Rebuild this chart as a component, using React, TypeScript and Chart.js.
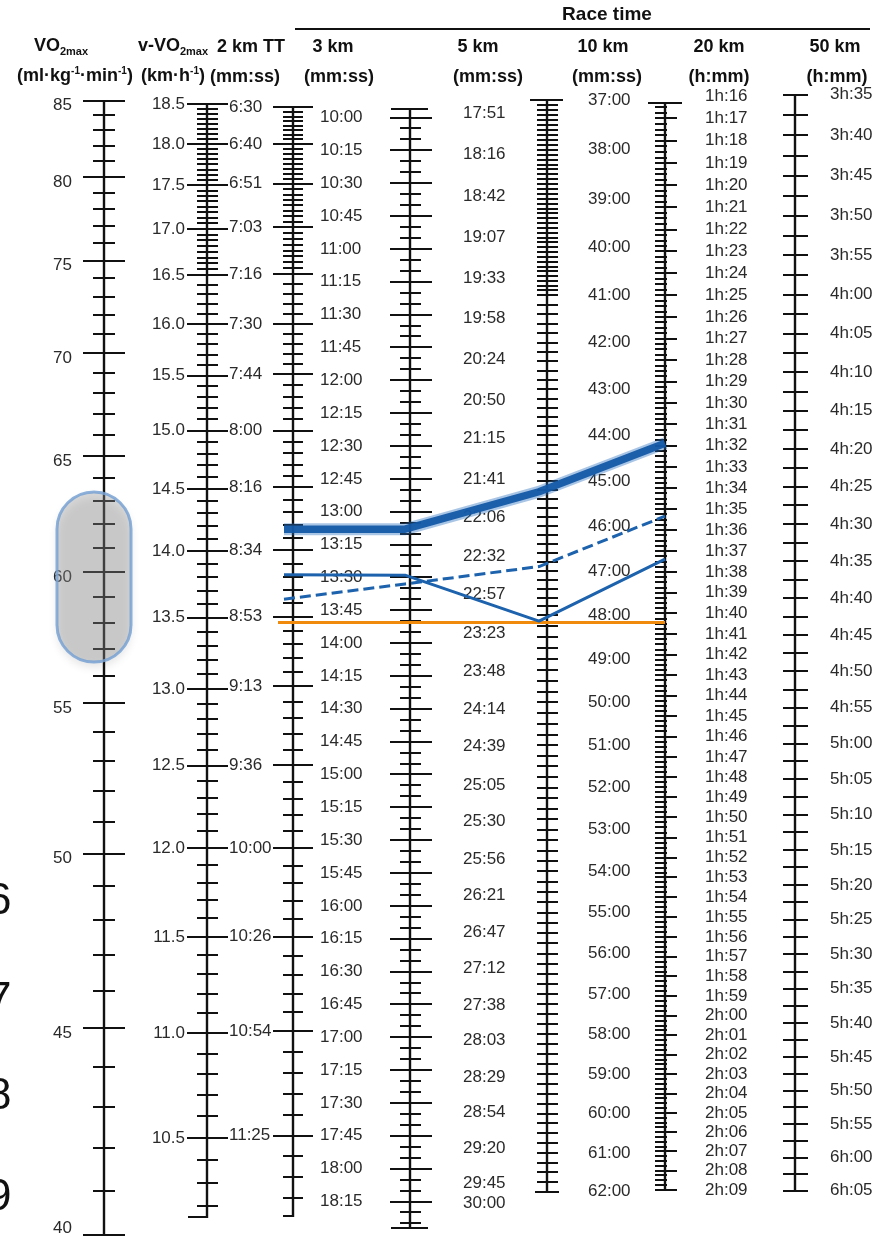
import React, { useEffect, useRef } from 'react';
import { Chart, Scale, LinearScale, LineController, LineElement, PointElement } from 'chart.js';

// ------------------------------------------------------------------ data
const VO2MAX_TICKS = [85, 80, 75, 70, 65, 60, 55, 50, 45, 40];
const V_VO2MAX_TICKS = [18.5, 18.0, 17.5, 17.0, 16.5, 16.0, 15.5, 15.0, 14.5, 14.0, 13.5, 13.0, 12.5, 12.0, 11.5, 11.0, 10.5];
const TT2KM_LABELS = ['6:30', '6:40', '6:51', '7:03', '7:16', '7:30', '7:44', '8:00', '8:16', '8:34', '8:53', '9:13', '9:36', '10:00', '10:26', '10:54', '11:25'];
const KM3_LABELS = ['10:00', '10:15', '10:30', '10:45', '11:00', '11:15', '11:30', '11:45', '12:00', '12:15', '12:30', '12:45', '13:00', '13:15', '13:30', '13:45', '14:00', '14:15', '14:30', '14:45', '15:00', '15:15', '15:30', '15:45', '16:00', '16:15', '16:30', '16:45', '17:00', '17:15', '17:30', '17:45', '18:00', '18:15'];
const KM5_LABELS = ['17:51', '18:16', '18:42', '19:07', '19:33', '19:58', '20:24', '20:50', '21:15', '21:41', '22:06', '22:32', '22:57', '23:23', '23:48', '24:14', '24:39', '25:05', '25:30', '25:56', '26:21', '26:47', '27:12', '27:38', '28:03', '28:29', '28:54', '29:20', '29:45', '30:00'];
const KM10_LABELS = ['37:00', '38:00', '39:00', '40:00', '41:00', '42:00', '43:00', '44:00', '45:00', '46:00', '47:00', '48:00', '49:00', '50:00', '51:00', '52:00', '53:00', '54:00', '55:00', '56:00', '57:00', '58:00', '59:00', '60:00', '61:00', '62:00'];
const KM20_LABELS = ['1h:16', '1h:17', '1h:18', '1h:19', '1h:20', '1h:21', '1h:22', '1h:23', '1h:24', '1h:25', '1h:26', '1h:27', '1h:28', '1h:29', '1h:30', '1h:31', '1h:32', '1h:33', '1h:34', '1h:35', '1h:36', '1h:37', '1h:38', '1h:39', '1h:40', '1h:41', '1h:42', '1h:43', '1h:44', '1h:45', '1h:46', '1h:47', '1h:48', '1h:49', '1h:50', '1h:51', '1h:52', '1h:53', '1h:54', '1h:55', '1h:56', '1h:57', '1h:58', '1h:59', '2h:00', '2h:01', '2h:02', '2h:03', '2h:04', '2h:05', '2h:06', '2h:07', '2h:08', '2h:09'];
const KM50_LABELS = ['3h:35', '3h:40', '3h:45', '3h:50', '3h:55', '4h:00', '4h:05', '4h:10', '4h:15', '4h:20', '4h:25', '4h:30', '4h:35', '4h:40', '4h:45', '4h:50', '4h:55', '5h:00', '5h:05', '5h:10', '5h:15', '5h:20', '5h:25', '5h:30', '5h:35', '5h:40', '5h:45', '5h:50', '5h:55', '6h:00', '6h:05'];

// performances (2 km TT, 3 km, 10 km, 20 km)
const LINE_COLUMNS = ['yTt2', 'yKm3', 'yKm10', 'yKm20'];
const BOLD_LINE = ['8:28', '13:08', '45:14', '1h:31:53'];
const THIN_LINE = ['8:41', '13:29', '48:08', '1h:37:23'];
const DASHED_LINE = ['8:48', '13:33', '46:54', '1h:35:20'];
const ORANGE_LINE_VO2 = [58, 58];
const HIGHLIGHT_VO2 = [63.4, 56.5];

// ------------------------------------------------------------------ scale models (value at chart-area top / bottom)
const SCALE_MODELS: Record<string, { exp: number; top: number; bottom: number }> = {
  yVo2: { exp: -0.5, top: 85.73, bottom: 39.98 },
  yV: { exp: -0.85, top: 18.69, bottom: 10.07 },
  yTt2: { exp: 0.85, top: 385.23, bottom: 715.0 },
  yKm3: { exp: 1, top: 587.44, bottom: 1110.75 },
  yKm5: { exp: 0.66, top: 1056.8, bottom: 1823.6 },
  yKm10: { exp: 0.5, top: 2208.1, bottom: 3789.0 },
  yKm20: { exp: 0.69, top: 4544.4, bottom: 7885.2 },
  yKm50: { exp: 0.6, top: 12865.8, bottom: 22311 },
};

// ------------------------------------------------------------------ layout
const FONT = '"Liberation Sans", Arial, Helvetica, sans-serif';
const LABEL_FONT = '17px ' + FONT;
const W = 887;
const H = 1236;
const AXIS_LAYOUT: Record<string, any> = {
  yVo2: { x: 104, extent: [85, 40], labelX: 72, align: 'right', dy: 5 },
  yV: { x: 207, extent: [18.5, 10.15], labelX: 185, align: 'right', dy: 0 },
  yTt2: { x: 293, extent: [390, 709], labelX: 229, align: 'left', dy: 0 },
  yKm3: { x: 410, extent: [596, 1107], labelX: 320, align: 'left', dy: 0 },
  yKm5: { x: null, extent: null, labelX: 463, align: 'left', dy: 0 },
  yKm10: { x: 547, extent: [2220, 3720], labelX: 588, align: 'left', dy: 0 },
  yKm20: { x: 665, extent: [4578, 7740], labelX: 705, align: 'left', dy: 0 },
  yKm50: { x: 795, extent: [12900, 21900], labelX: 830, align: 'left', dy: 0 },
};
const LINE_X: Record<string, number> = { yTt2: 284, yKm3: 405, yKm10: 539, yKm20: 665 };
const PILL = { left: 57, right: 131 };

// ------------------------------------------------------------------ helpers
function parseTime(s: string): number {
  if (s.includes('h')) {
    const [h, m, sec] = s.replace('h', '').split(':').map(Number);
    return h * 3600 + m * 60 + (sec || 0);
  }
  const [m, sec] = s.split(':').map(Number);
  return m * 60 + sec;
}
const tf = (p: number, v: number) => Math.pow(v, p);
function fracOf(m: { exp: number; top: number; bottom: number }, v: number) {
  const a = tf(m.exp, m.top), b = tf(m.exp, m.bottom);
  return (tf(m.exp, v) - a) / (b - a);
}
function valueAt(m: { exp: number; top: number; bottom: number }, f: number) {
  const a = tf(m.exp, m.top), b = tf(m.exp, m.bottom);
  return Math.pow(a + f * (b - a), 1 / m.exp);
}
const toVo2 = (id: string, v: number) => valueAt(SCALE_MODELS.yVo2, fracOf(SCALE_MODELS[id], v));

type Mark = { value: number; left: number; right: number };
function subdivide(majors: number[], parts: (i: number) => number): number[] {
  const out: number[] = [];
  for (let i = 0; i < majors.length - 1; i++) {
    const a = majors[i], b = majors[i + 1], n = parts(i);
    for (let k = 1; k < n; k++) out.push(a + ((b - a) * k) / n);
  }
  return out;
}
function extend(majors: number[], end: number): number[] {
  const n = majors.length;
  const step = (majors[n - 1] - majors[n - 2]) / 5;
  const out: number[] = [];
  let v = majors[n - 1] + step;
  while (step > 0 ? v < end : v > end) { out.push(v); v += step; }
  return out;
}
const mk = (vals: number[], left: number, right: number): Mark[] => vals.map((value) => ({ value, left, right }));

function buildTickMarks(): Record<string, Mark[]> {
  const dense = (i: number) => (i < 4 ? 8 : 5);
  const vo2: Mark[] = [];
  for (let v = 40; v <= 85; v++) vo2.push(v % 5 === 0 ? { value: v, left: 21, right: 21 } : { value: v, left: 11, right: 11 });

  const vMaj = V_VO2MAX_TICKS;
  const v = [...mk(vMaj, 20, 21), ...mk([...subdivide(vMaj, dense), ...extend(vMaj, 10.15)], 10, 11), { value: 10.15, left: 19, right: 0 }];

  const ttMaj = TT2KM_LABELS.map(parseTime);
  const tt = [...mk(ttMaj, 20, 20), ...mk([...subdivide(ttMaj, dense), ...extend(ttMaj, 709)], 10, 10), { value: 709, left: 10, right: 0 }];

  const km3: Mark[] = [];
  for (let t = 600; t <= 1105; t += 5) km3.push(t % 15 === 0 ? { value: t, left: 20, right: 22 } : { value: t, left: 10, right: 11 });
  km3.push({ value: 596, left: 19, right: 18 }, { value: 1107, left: 19, right: 18 });

  const km10: Mark[] = [{ value: 2220, left: 17, right: 16 }, { value: 3720, left: 12, right: 12 }];
  let t = 2220;
  while (t < 3720) {
    t += t < 2460 ? 6 : t < 2880 ? 12 : 15;
    if (t < 3720) km10.push({ value: t, left: 10, right: 11 });
  }

  const km20: Mark[] = [{ value: 4578, left: 17, right: 17 }, { value: 7740, left: 10, right: 12 }];
  for (let s = 4590; s < 7740; s += 15) km20.push(s % 60 === 0 ? { value: s, left: 10, right: 12 } : { value: s, left: 10, right: 2 });

  const km50: Mark[] = [];
  for (let s = 12900; s <= 21900; s += 150) km50.push({ value: s, left: 12, right: 13 });

  return { yVo2: vo2, yV: v, yTt2: tt, yKm3: km3, yKm5: [], yKm10: km10, yKm20: km20, yKm50: km50 };
}

const TICK_MARKS = buildTickMarks();
const timeLabels = (arr: string[]) => arr.map((text) => ({ value: parseTime(text), text }));
const AXIS_LABELS: Record<string, { value: number; text: string }[]> = {
  yVo2: VO2MAX_TICKS.map((v) => ({ value: v, text: String(v) })),
  yV: V_VO2MAX_TICKS.map((v) => ({ value: v, text: v.toFixed(1) })),
  yTt2: timeLabels(TT2KM_LABELS),
  yKm3: timeLabels(KM3_LABELS),
  yKm5: timeLabels(KM5_LABELS),
  yKm10: timeLabels(KM10_LABELS),
  yKm20: timeLabels(KM20_LABELS),
  yKm50: timeLabels(KM50_LABELS),
};

function drawNomogramAxis(scale: any) {
  const lay = AXIS_LAYOUT[scale.id];
  if (!lay) return;
  const ctx: CanvasRenderingContext2D = scale.ctx;
  const px = (v: number) => scale.getPixelForValue(v);
  ctx.save();
  if (lay.x != null) {
    ctx.strokeStyle = '#111';
    ctx.lineCap = 'butt';
    ctx.lineWidth = 2.4;
    ctx.beginPath();
    ctx.moveTo(lay.x, Math.round(px(lay.extent[0])) - 1);
    ctx.lineTo(lay.x, Math.round(px(lay.extent[1])) + 1);
    ctx.stroke();
    ctx.lineWidth = 2;
    ctx.beginPath();
    for (const m of TICK_MARKS[scale.id]) {
      const y = Math.round(px(m.value));
      ctx.moveTo(lay.x - m.left, y);
      ctx.lineTo(lay.x + m.right, y);
    }
    ctx.stroke();
  }
  ctx.font = LABEL_FONT;
  ctx.fillStyle = '#2a2a2a';
  ctx.textAlign = lay.align;
  ctx.textBaseline = 'middle';
  const maxY = scale.chart.height - 8;
  for (const l of AXIS_LABELS[scale.id]) {
    ctx.fillText(l.text, lay.labelX, Math.min(px(l.value) + lay.dy, maxY));
  }
  ctx.restore();
}

class NomogramScale extends (Scale as any) {
  static id = 'nomogram';
  static defaults = {};
  determineDataLimits() {
    const m = SCALE_MODELS[this.id];
    this.min = m.top;
    this.max = m.bottom;
  }
  buildTicks() { return []; }
  getLabelForValue(v: number) { return String(v); }
  getPixelForValue(v: number) {
    return this.top + fracOf(SCALE_MODELS[this.id], v) * (this.bottom - this.top);
  }
  getValueForPixel(p: number) {
    return valueAt(SCALE_MODELS[this.id], (p - this.top) / (this.bottom - this.top));
  }
  draw() { drawNomogramAxis(this); }
}

Chart.register(LineController, LineElement, PointElement, LinearScale, NomogramScale as any);

const highlightPlugin = {
  id: 'vo2Highlight',
  afterDatasetsDraw(chart: any) {
    const s = chart.scales.yVo2;
    const ctx: CanvasRenderingContext2D = chart.ctx;
    const y1 = s.getPixelForValue(HIGHLIGHT_VO2[0]);
    const y2 = s.getPixelForValue(HIGHLIGHT_VO2[1]);
    const w = PILL.right - PILL.left;
    ctx.save();
    ctx.beginPath();
    (ctx as any).roundRect(PILL.left, y1, w, y2 - y1, w / 2);
    ctx.shadowColor = 'rgba(0,0,0,0.3)';
    ctx.shadowBlur = 10;
    ctx.shadowOffsetY = 5;
    ctx.fillStyle = 'rgba(150,150,150,0.36)';
    ctx.fill();
    ctx.shadowColor = 'transparent';
    ctx.lineWidth = 3;
    ctx.strokeStyle = 'rgba(120,162,210,0.85)';
    ctx.stroke();
    ctx.restore();
  },
};

function seriesPoints(vals: string[]) {
  return vals.map((s, i) => ({ x: LINE_X[LINE_COLUMNS[i]], y: toVo2(LINE_COLUMNS[i], parseTime(s)) }));
}

function makeConfig(): any {
  const scales: any = { x: { type: 'linear', min: 0, max: W, display: false } };
  for (const id of Object.keys(SCALE_MODELS)) scales[id] = { type: 'nomogram', axis: 'y', position: 'left', display: false };
  const base = { yAxisID: 'yVo2', xAxisID: 'x', pointRadius: 0, fill: false, tension: 0, borderJoinStyle: 'round' };
  const bold = seriesPoints(BOLD_LINE);
  return {
    type: 'line',
    data: {
      datasets: [
        { ...base, label: 'Athlete A', data: bold, borderColor: 'rgba(20,88,166,0.95)', borderWidth: 7.5 },
        { ...base, label: 'Athlete A halo', data: bold, borderColor: 'rgba(40,110,190,0.4)', borderWidth: 12 },
        { ...base, label: 'Athlete B', data: seriesPoints(THIN_LINE), borderColor: '#1c62ad', borderWidth: 3 },
        { ...base, label: 'Athlete C', data: seriesPoints(DASHED_LINE), borderColor: '#1c62ad', borderWidth: 3, borderDash: [11, 5] },
        {
          ...base,
          label: 'Reference',
          data: [
            { x: LINE_X.yTt2 - 6, y: ORANGE_LINE_VO2[0] },
            { x: LINE_X.yKm20, y: ORANGE_LINE_VO2[1] },
          ],
          borderColor: '#f08a0c',
          borderWidth: 3,
        },
      ],
    },
    options: {
      animation: false,
      responsive: false,
      maintainAspectRatio: false,
      devicePixelRatio: 1,
      events: [],
      layout: { padding: { top: 90, right: 0, bottom: 0, left: 0 }, autoPadding: false },
      scales,
    },
    plugins: [highlightPlugin],
  };
}

// ------------------------------------------------------------------ header (HTML text)
const sub = (t: string) => <span style={{ fontSize: 11, position: 'relative', top: 4 }}>{t}</span>;
const sup = (t: string) => <span style={{ fontSize: 10, position: 'relative', top: -7 }}>{t}</span>;
const HEADERS: { cx: number; cy: number; size?: number; node: any }[] = [
  { cx: 61, cy: 46, node: <>VO{sub('2max')}</> },
  { cx: 75, cy: 76, node: <>(ml·kg{sup('-1')}·min{sup('-1')})</> },
  { cx: 173, cy: 46, node: <>v-VO{sub('2max')}</> },
  { cx: 173, cy: 76, node: <>(km·h{sup('-1')})</> },
  { cx: 251, cy: 46, node: <>2 km TT</> },
  { cx: 245, cy: 76, node: <>(mm:ss)</> },
  { cx: 333, cy: 46, node: <>3 km</> },
  { cx: 339, cy: 76, node: <>(mm:ss)</> },
  { cx: 607, cy: 14, size: 19, node: <>Race time</> },
  { cx: 478, cy: 46, node: <>5 km</> },
  { cx: 488, cy: 76, node: <>(mm:ss)</> },
  { cx: 603, cy: 46, node: <>10 km</> },
  { cx: 607, cy: 76, node: <>(mm:ss)</> },
  { cx: 719, cy: 46, node: <>20 km</> },
  { cx: 719, cy: 76, node: <>(h:mm)</> },
  { cx: 835, cy: 46, node: <>50 km</> },
  { cx: 837, cy: 76, node: <>(h:mm)</> },
];
const EDGE_DIGITS = [
  { text: '6', top: 877 },
  { text: '7', top: 976 },
  { text: '8', top: 1072 },
  { text: '9', top: 1173 },
];

export default function App() {
  const ref = useRef<HTMLCanvasElement>(null);
  useEffect(() => {
    document.body.style.margin = '0';
    const chart = new Chart(ref.current as HTMLCanvasElement, makeConfig());
    return () => chart.destroy();
  }, []);
  return (
    <div style={{ position: 'absolute', left: 0, top: 0, width: W, height: H, background: '#fff', overflow: 'hidden', fontFamily: FONT, color: '#111' }}>
      <canvas ref={ref} width={W} height={H} style={{ position: 'absolute', left: 0, top: 0, width: W, height: H }} />
      {HEADERS.map((h, i) => (
        <div
          key={i}
          style={{
            position: 'absolute',
            left: h.cx,
            top: h.cy,
            transform: 'translate(-50%, -50%)',
            whiteSpace: 'nowrap',
            fontWeight: 700,
            fontSize: h.size || 18,
            lineHeight: '20px',
          }}
        >
          {h.node}
        </div>
      ))}
      <div style={{ position: 'absolute', left: 295, top: 28, width: 575, height: 2, background: '#111' }} />
      {EDGE_DIGITS.map((d) => (
        <div key={d.text} style={{ position: 'absolute', left: -13, top: d.top, fontSize: 44, lineHeight: '44px', color: '#111' }}>
          {d.text}
        </div>
      ))}
    </div>
  );
}
